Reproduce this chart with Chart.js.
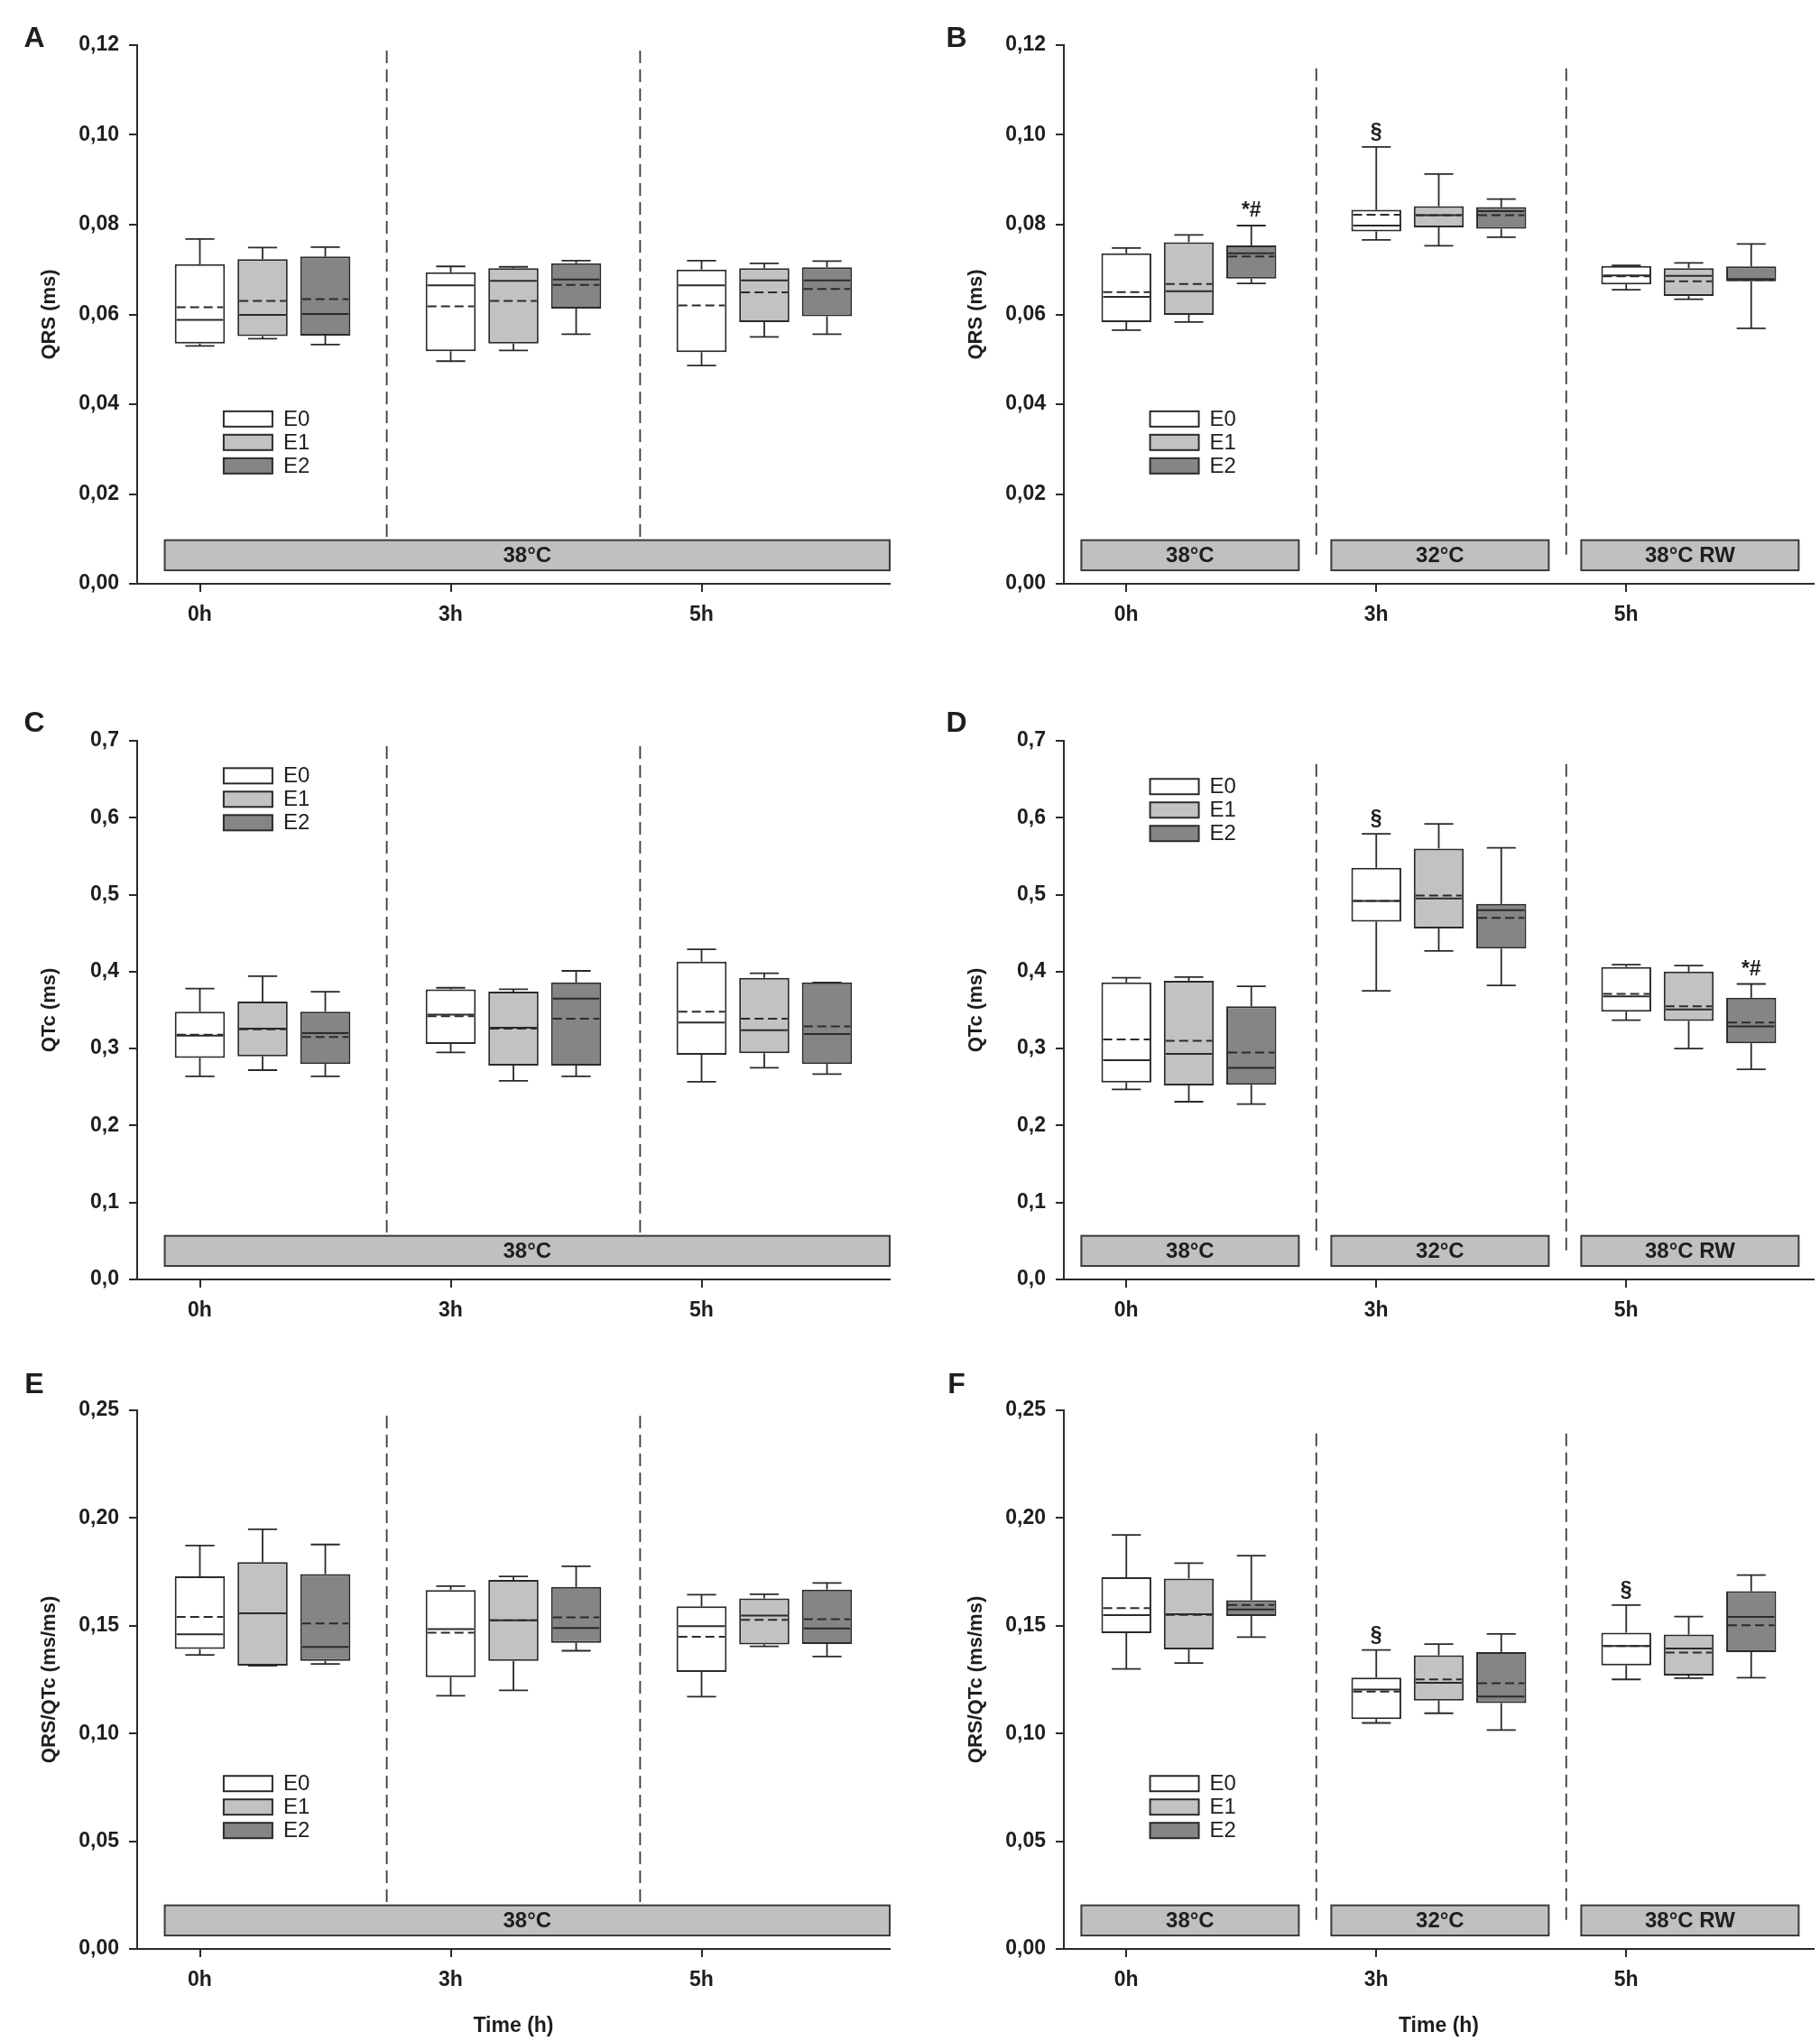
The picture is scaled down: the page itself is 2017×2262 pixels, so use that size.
<!DOCTYPE html>
<html>
<head>
<meta charset="utf-8">
<script src="https://cdn.jsdelivr.net/npm/chart.js@4.4.1/dist/chart.umd.min.js"></script>
<style>
html,body{margin:0;padding:0;background:#ffffff;}
body{width:2017px;height:2262px;position:relative;overflow:hidden;}
canvas{position:absolute;}
</style>
</head>
<body>
<script>
// ---------------- DATA ----------------
const timeLabels = ['0h', '3h', '5h'];
const groupNames = ['E0', 'E1', 'E2'];
const groupColors = ['#ffffff', '#c2c2c2', '#858585'];

// each row = one time point (0h, 3h, 5h): [min, q1, median, mean, q3, max]
// A: QRS, constant 38°C
const A_E0 = [[0.0530, 0.0535, 0.0588, 0.0616, 0.0712, 0.0768], [0.0496, 0.0518, 0.0665, 0.0618, 0.0694, 0.0707], [0.0486, 0.0516, 0.0665, 0.0620, 0.0700, 0.0720]];
const A_E1 = [[0.0546, 0.0552, 0.0599, 0.0630, 0.0723, 0.0749], [0.0520, 0.0535, 0.0675, 0.0630, 0.0703, 0.0706], [0.0550, 0.0583, 0.0676, 0.0649, 0.0703, 0.0714]];
const A_E2 = [[0.0533, 0.0553, 0.0601, 0.0634, 0.0729, 0.0750], [0.0556, 0.0613, 0.0678, 0.0666, 0.0714, 0.0720], [0.0556, 0.0596, 0.0676, 0.0657, 0.0705, 0.0719]];
// B: QRS, 38°C / 32°C / 38°C RW
const B_E0 = [[0.0565, 0.0583, 0.0639, 0.0650, 0.0736, 0.0748], [0.0766, 0.0785, 0.0798, 0.0822, 0.0833, 0.0973], [0.0655, 0.0667, 0.0687, 0.0685, 0.0708, 0.0709]];
const B_E1 = [[0.0583, 0.0599, 0.0652, 0.0668, 0.0761, 0.0777], [0.0753, 0.0794, 0.0821, 0.0821, 0.0841, 0.0913], [0.0634, 0.0641, 0.0686, 0.0674, 0.0703, 0.0715]];
const B_E2 = [[0.0669, 0.0680, 0.0736, 0.0729, 0.0754, 0.0798], [0.0772, 0.0791, 0.0830, 0.0821, 0.0839, 0.0857], [0.0569, 0.0674, 0.0679, 0.0677, 0.0707, 0.0757]];
// C: QTc, constant 38°C
const C_E0 = [[0.264, 0.288, 0.317, 0.318, 0.348, 0.378], [0.295, 0.306, 0.344, 0.342, 0.377, 0.379], [0.257, 0.292, 0.334, 0.348, 0.413, 0.429]];
const C_E1 = [[0.272, 0.290, 0.326, 0.325, 0.361, 0.394], [0.258, 0.278, 0.327, 0.326, 0.374, 0.377], [0.275, 0.294, 0.324, 0.339, 0.392, 0.398]];
const C_E2 = [[0.264, 0.280, 0.320, 0.315, 0.348, 0.374], [0.264, 0.278, 0.365, 0.339, 0.386, 0.401], [0.267, 0.280, 0.319, 0.329, 0.386, 0.386]];
// D: QTc, 38°C / 32°C / 38°C RW
const D_E0 = [[0.247, 0.256, 0.285, 0.312, 0.386, 0.392], [0.375, 0.465, 0.492, 0.492, 0.535, 0.579], [0.337, 0.348, 0.368, 0.371, 0.406, 0.409]];
const D_E1 = [[0.231, 0.252, 0.293, 0.310, 0.388, 0.393], [0.427, 0.456, 0.495, 0.499, 0.560, 0.592], [0.300, 0.336, 0.351, 0.355, 0.400, 0.408]];
const D_E2 = [[0.228, 0.253, 0.275, 0.295, 0.355, 0.381], [0.382, 0.430, 0.480, 0.470, 0.488, 0.561], [0.273, 0.307, 0.329, 0.334, 0.366, 0.384]];
// E: QRS/QTc, constant 38°C
const E_E0 = [[0.1365, 0.1392, 0.1460, 0.1541, 0.1729, 0.1872], [0.1175, 0.1261, 0.1484, 0.1468, 0.1666, 0.1684], [0.1171, 0.1286, 0.1498, 0.1449, 0.1590, 0.1644]];
const E_E1 = [[0.1315, 0.1315, 0.1558, 0.1558, 0.1795, 0.1948], [0.1200, 0.1337, 0.1525, 0.1525, 0.1713, 0.1729], [0.1404, 0.1413, 0.1547, 0.1527, 0.1627, 0.1646]];
const E_E2 = [[0.1323, 0.1337, 0.1402, 0.1511, 0.1740, 0.1877], [0.1384, 0.1421, 0.1490, 0.1539, 0.1680, 0.1776], [0.1357, 0.1415, 0.1488, 0.1531, 0.1668, 0.1699]];
// F: QRS/QTc, 38°C / 32°C / 38°C RW
const F_E0 = [[0.1300, 0.1466, 0.1549, 0.1582, 0.1725, 0.1922], [0.1049, 0.1067, 0.1204, 0.1194, 0.1259, 0.1388], [0.1251, 0.1316, 0.1406, 0.1406, 0.1468, 0.1596]];
const F_E1 = [[0.1327, 0.1390, 0.1554, 0.1550, 0.1719, 0.1791], [0.1094, 0.1153, 0.1235, 0.1251, 0.1363, 0.1415], [0.1257, 0.1269, 0.1394, 0.1376, 0.1459, 0.1543]];
const F_E2 = [[0.1447, 0.1545, 0.1576, 0.1597, 0.1619, 0.1825], [0.1016, 0.1141, 0.1171, 0.1233, 0.1378, 0.1462], [0.1259, 0.1378, 0.1541, 0.1502, 0.1660, 0.1735]];

// significance marks [group][time]
const noMarks = [['', '', ''], ['', '', ''], ['', '', '']];
const marksB = [['', '§', ''], ['', '', ''], ['*#', '', '']];
const marksD = [['', '§', ''], ['', '', ''], ['', '', '*#']];
const marksF = [['', '§', '§'], ['', '', ''], ['', '', '']];

const panelLetters = ['A', 'B', 'C', 'D', 'E', 'F'];
const yTitles = ['QRS (ms)', 'QRS (ms)', 'QTc (ms)', 'QTc (ms)', 'QRS/QTc (ms/ms)', 'QRS/QTc (ms/ms)'];
const yMaxes = [0.12, 0.12, 0.7, 0.7, 0.25, 0.25];
const ySteps = [0.02, 0.02, 0.1, 0.1, 0.05, 0.05];
const yDecimals = [2, 2, 1, 1, 2, 2];
const bandsConstant = ['38°C'];
const bandsProtocol = ['38°C', '32°C', '38°C RW'];
const xTitle = 'Time (h)';

// ---------------- LAYOUT / STYLE ----------------
const FONT = '"Liberation Sans", Arial, Helvetica, sans-serif';
const INK = '#1e1e1e';
const LINE = '#2a2a2a';
const layout = [
  {left: 0,    top: 0,    w: 1000, h: 770, pt: 50, pr: 14, pb: 48, xh: 75,  letter: [38, 43], legendTop: 0.694},
  {left: 1027, top: 0,    w: 990,  h: 770, pt: 50, pr: 7,  pb: 48, xh: 75,  letter: [33, 43], legendTop: 0.694},
  {left: 0,    top: 770,  w: 1000, h: 730, pt: 51, pr: 14, pb: 7,  xh: 75,  letter: [38, 32], legendTop: 0.065},
  {left: 1027, top: 770,  w: 990,  h: 730, pt: 51, pr: 7,  pb: 7,  xh: 75,  letter: [33, 32], legendTop: 0.085},
  {left: 0,    top: 1500, w: 1000, h: 762, pt: 63, pr: 14, pb: 2,  xh: 100, letter: [38, 35], legendTop: 0.693},
  {left: 1027, top: 1500, w: 990,  h: 762, pt: 63, pr: 7,  pb: 2,  xh: 100, letter: [33, 35], legendTop: 0.693}
];
const panelStats = [[A_E0, A_E1, A_E2], [B_E0, B_E1, B_E2], [C_E0, C_E1, C_E2], [D_E0, D_E1, D_E2], [E_E0, E_E1, E_E2], [F_E0, F_E1, F_E2]];
const panelMarks = [noMarks, marksB, noMarks, marksD, noMarks, marksF];
const groupOffset = 0.25;

function line(ctx, x0, y0, x1, y1) {
  ctx.beginPath(); ctx.moveTo(x0, y0); ctx.lineTo(x1, y1); ctx.stroke();
}

const boxExtras = {
  id: 'boxExtras',
  beforeDatasetsDraw(chart) {
    const o = chart.options.plugins.boxExtras;
    const {ctx, scales: {x, y}} = chart;
    const ymax = y.max;
    ctx.save();
    // condition bands
    const by0 = y.getPixelForValue(ymax * 0.081), by1 = y.getPixelForValue(ymax * 0.025);
    o.bands.forEach(b => {
      const x0 = x.getPixelForValue(b.from), x1 = x.getPixelForValue(b.to);
      ctx.fillStyle = '#c0c0c0';
      ctx.fillRect(x0, by0, x1 - x0, by1 - by0);
      ctx.strokeStyle = '#3a3a3a'; ctx.lineWidth = 2; ctx.setLineDash([]);
      ctx.strokeRect(x0, by0, x1 - x0, by1 - by0);
      ctx.fillStyle = INK; ctx.font = 'bold 24px ' + FONT;
      ctx.textAlign = 'center'; ctx.textBaseline = 'middle';
      ctx.fillText(b.label, (x0 + x1) / 2, (by0 + by1) / 2 + 1);
    });
    // separators
    ctx.strokeStyle = '#3a3a3a'; ctx.lineWidth = 1.8; ctx.setLineDash([14, 7]);
    o.separators.forEach(s => {
      const px = x.getPixelForValue(s);
      line(ctx, px, y.getPixelForValue(ymax * o.sepTop), px, y.getPixelForValue(ymax * o.sepBottom));
    });
    ctx.restore();
  },
  afterDatasetsDraw(chart) {
    const o = chart.options.plugins.boxExtras;
    const {ctx, scales: {y}} = chart;
    ctx.save();
    chart.data.datasets.forEach((ds, k) => {
      const meta = chart.getDatasetMeta(k);
      meta.data.forEach((el, i) => {
        const s = ds.stats[i];
        const cx = el.x, w = el.width, cap = w * 0.29;
        const py = v => y.getPixelForValue(v);
        ctx.strokeStyle = LINE; ctx.lineWidth = 1.8; ctx.setLineDash([]);
        line(ctx, cx, py(s[4]), cx, py(s[5]));
        line(ctx, cx - cap, py(s[5]), cx + cap, py(s[5]));
        line(ctx, cx, py(s[1]), cx, py(s[0]));
        line(ctx, cx - cap, py(s[0]), cx + cap, py(s[0]));
        ctx.lineWidth = 2;
        line(ctx, cx - w / 2 + 2, py(s[2]), cx + w / 2 - 2, py(s[2]));
        ctx.setLineDash([10, 5]);
        line(ctx, cx - w / 2 + 2, py(s[3]), cx + w / 2 - 2, py(s[3]));
        ctx.setLineDash([]);
        const m = ds.marks[i];
        if (m) {
          ctx.fillStyle = INK; ctx.font = 'bold 23px ' + FONT;
          ctx.textAlign = 'center'; ctx.textBaseline = 'alphabetic';
          ctx.fillText(m, cx, py(s[5]) - 10);
        }
      });
    });
    ctx.restore();
  },
  afterDraw(chart) {
    const o = chart.options.plugins.boxExtras;
    const {ctx, chartArea: ca} = chart;
    ctx.save();
    // legend
    const lx = ca.left + 0.115 * (ca.right - ca.left);
    const ly = ca.top + o.legendTop * (ca.bottom - ca.top);
    groupNames.forEach((g, i) => {
      const yy = ly + i * 26;
      ctx.fillStyle = groupColors[i];
      ctx.fillRect(lx, yy - 8.5, 54, 17);
      ctx.strokeStyle = LINE; ctx.lineWidth = 2; ctx.setLineDash([]);
      ctx.strokeRect(lx, yy - 8.5, 54, 17);
      ctx.fillStyle = INK; ctx.font = '24px ' + FONT;
      ctx.textAlign = 'left'; ctx.textBaseline = 'middle';
      ctx.fillText(g, lx + 66, yy + 1);
    });
    // panel letter
    ctx.fillStyle = INK; ctx.font = 'bold 32px ' + FONT;
    ctx.textAlign = 'center'; ctx.textBaseline = 'middle';
    ctx.fillText(o.letter, o.letterPos[0], o.letterPos[1]);
    ctx.restore();
  }
};

function makePanel(p) {
  const L = layout[p];
  const right = p % 2 === 1;
  const canvas = document.createElement('canvas');
  canvas.width = L.w; canvas.height = L.h;
  canvas.style.left = L.left + 'px'; canvas.style.top = L.top + 'px';
  canvas.style.width = L.w + 'px'; canvas.style.height = L.h + 'px';
  document.body.appendChild(canvas);

  const datasets = groupNames.map((g, k) => ({
    label: g,
    data: panelStats[p][k].map((s, i) => ({x: i + k * groupOffset, y: [s[1], s[4]]})),
    stats: panelStats[p][k],
    marks: panelMarks[p][k],
    backgroundColor: groupColors[k],
    borderColor: LINE,
    borderWidth: 2,
    borderSkipped: false,
    grouped: false,
    barPercentage: 0.8,
    categoryPercentage: 1.0
  }));

  const bands = right
    ? bandsProtocol.map((b, i) => ({label: b, from: i - 0.18, to: i + 0.69}))
    : bandsConstant.map(b => ({label: b, from: -0.14, to: 2.75}));
  const separators = right ? [0.76, 1.76] : [0.745, 1.755];
  const dec = yDecimals[p];
  const axisGrid = {display: true, drawOnChartArea: false, drawTicks: true, tickLength: 9, color: LINE, lineWidth: 2, offset: false};
  const axisBorder = {display: true, color: LINE, width: 2};

  new Chart(canvas, {
    type: 'bar',
    data: {datasets},
    plugins: [boxExtras],
    options: {
      responsive: false,
      animation: false,
      devicePixelRatio: 1,
      layout: {padding: {left: 0, right: L.pr, top: L.pt, bottom: L.pb}},
      plugins: {
        legend: {display: false},
        tooltip: {enabled: false},
        boxExtras: {
          bands, separators,
          sepTop: right ? 0.957 : 0.99,
          sepBottom: right ? 0.047 : 0.081,
          legendTop: L.legendTop,
          letter: panelLetters[p],
          letterPos: L.letter
        }
      },
      scales: {
        x: {
          type: 'linear', min: -0.25, max: 2.75, offset: false,
          afterBuildTicks: s => { s.ticks = timeLabels.map((t, i) => ({value: i})); },
          afterFit: s => { s.height = L.xh; },
          ticks: {
            autoSkip: false, maxRotation: 0, padding: 12, color: INK,
            font: {family: FONT, size: 23, weight: 'bold'},
            callback: v => timeLabels[Math.round(v)]
          },
          grid: axisGrid,
          border: axisBorder,
          title: {display: p >= 4, text: xTitle, color: INK, font: {family: FONT, size: 23, weight: 'bold'}, padding: {top: 0, bottom: 1}}
        },
        y: {
          min: 0, max: yMaxes[p],
          afterFit: s => { s.width = 152; },
          ticks: {
            stepSize: ySteps[p], padding: 11, color: INK,
            font: {family: FONT, size: 23, weight: 'bold'},
            callback: v => Number(v).toFixed(dec).replace('.', ',')
          },
          grid: axisGrid,
          border: axisBorder,
          title: {display: true, text: yTitles[p], color: INK, font: {family: FONT, size: 22, weight: 'bold'}, padding: {top: 42, bottom: 0}}
        }
      }
    }
  });
}

for (let p = 0; p < 6; p++) makePanel(p);
</script>
</body>
</html>
